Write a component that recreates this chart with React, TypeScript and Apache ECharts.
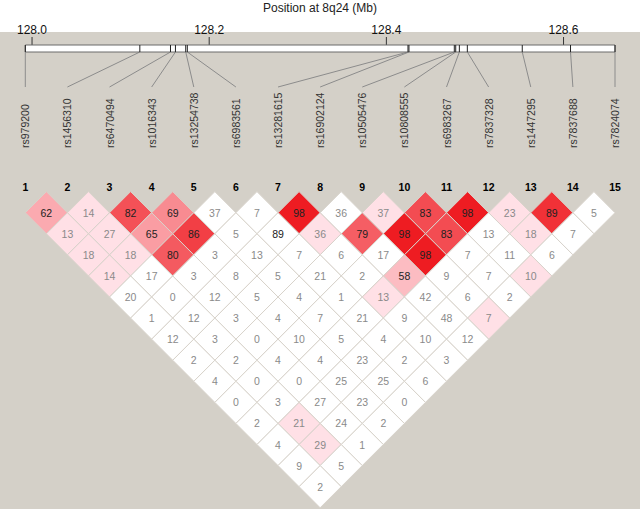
import React, { useEffect, useRef } from "react";
import * as echarts from "echarts";

const snpNames = [
  "rs979200", "rs1456310", "rs6470494", "rs1016343", "rs13254738",
  "rs6983561", "rs13281615", "rs16902124", "rs10505476", "rs10808555",
  "rs6983267", "rs7837328", "rs1447295", "rs7837688", "rs7824074",
];
const snpPositionsMb = [
  127.9924, 128.1217, 128.1563, 128.1619, 128.1735, 128.1753, 128.4244,
  128.4255, 128.4767, 128.4783, 128.4824, 128.4914, 128.5534, 128.6079, 128.6581,
];
const positionTicks = [128.0, 128.2, 128.4, 128.6];

// D' x100, one row per SNP distance (1 = adjacent pairs), left to right
const dPrimeRows = [
  [62, 14, 82, 69, 37, 7, 98, 36, 37, 83, 98, 23, 89, 5],
  [13, 27, 65, 86, 5, 89, 36, 79, 98, 83, 13, 18, 7],
  [18, 18, 80, 3, 13, 7, 6, 17, 98, 7, 11, 6],
  [14, 17, 3, 8, 5, 21, 2, 58, 9, 7, 10],
  [20, 0, 12, 5, 4, 1, 13, 42, 6, 2],
  [1, 12, 3, 4, 7, 21, 9, 48, 7],
  [12, 3, 0, 10, 5, 4, 10, 12],
  [2, 2, 4, 4, 23, 2, 3],
  [4, 0, 0, 25, 25, 6],
  [0, 3, 27, 23, 0],
  [2, 21, 24, 2],
  [4, 29, 1],
  [9, 5],
  [2],
];
// 1 = LOD >= 2 (coloured), 0 = LOD < 2 (white)
const strongLdRows = [
  [1, 1, 1, 1, 0, 0, 1, 0, 1, 1, 1, 1, 1, 0],
  [1, 1, 1, 1, 0, 0, 1, 1, 1, 1, 0, 1, 0],
  [1, 1, 1, 0, 0, 0, 0, 0, 1, 0, 0, 0],
  [1, 0, 0, 0, 0, 0, 0, 1, 0, 0, 1],
  [0, 0, 0, 0, 0, 0, 1, 0, 0, 0],
  [0, 0, 0, 0, 0, 0, 0, 0, 1],
  [0, 0, 0, 0, 0, 0, 0, 0],
  [0, 0, 0, 0, 0, 0, 0],
  [0, 0, 0, 0, 0, 0],
  [0, 0, 0, 0, 0],
  [0, 1, 0, 0],
  [0, 1, 0],
  [0, 0],
  [0],
];

const FONT = '"Liberation Sans", Arial, Helvetica, sans-serif';

function cellColor(dp: number, strong: number): string {
  if (!strong) return "#ffffff";
  const d = dp / 100;
  const g = Math.round(Math.min(224, Math.max(28, 448 * (1 - d))));
  const r = Math.round(255 - 17 * Math.min(1, Math.max(0, (d - 0.5) / 0.48)));
  const b = Math.min(255, g + 6);
  return `rgb(${r},${g},${b})`;
}

export default function App() {
  const ref = useRef<HTMLDivElement>(null);

  useEffect(() => {
    if (!ref.current) return;
    const chart = echarts.init(ref.current, null, { renderer: "svg" });

    const cells: number[][] = [];
    dPrimeRows.forEach((row, k) => {
      const dist = k + 1;
      row.forEach((v, m) => {
        const i = m + 1;
        const j = i + dist;
        cells.push([(i + j) / 2, dist, v, strongLdRows[k][m]]);
      });
    });

    const first = snpPositionsMb[0];
    const last = snpPositionsMb[snpPositionsMb.length - 1];
    const gridLeft = 25.3;
    const gridWidth = 589.7;
    // position panel: y units of 7px; bar spans 5..6, ticks 6..TOP
    const TOP = 50 / 7;

    const option: any = {
      animation: false,
      backgroundColor: {
        type: "linear",
        x: 0, y: 0, x2: 0, y2: 1,
        colorStops: [
          { offset: 0, color: "#ffffff" },
          { offset: 32 / 509, color: "#ffffff" },
          { offset: 32 / 509, color: "#d4d0c8" },
          { offset: 1, color: "#d4d0c8" },
        ],
      },
      title: {
        text: "Position at 8q24 (Mb)",
        left: "center",
        top: -3,
        textStyle: { fontFamily: FONT, fontSize: 12, fontWeight: "normal", color: "#222" },
      },
      grid: [
        { left: gridLeft, width: gridWidth, top: 212.7, height: 274, outerBoundsMode: "none" },
        { left: gridLeft, width: gridWidth, top: 37, height: 50, outerBoundsMode: "none" },
        { left: gridLeft, width: gridWidth, top: 150, height: 10, outerBoundsMode: "none" },
      ],
      xAxis: [
        {
          gridIndex: 0, type: "value", min: 1, max: 15, interval: 1, position: "top",
          axisLine: { show: false }, axisTick: { show: false }, splitLine: { show: false },
          axisLabel: {
            fontFamily: FONT, fontSize: 10.5, fontWeight: "bold", color: "#000",
            margin: 20, showMinLabel: true, showMaxLabel: true,
          },
        },
        {
          gridIndex: 1, type: "value", min: first, max: last, position: "top",
          axisLine: { show: false }, splitLine: { show: false },
          axisTick: { show: false },
          axisLabel: {
            customValues: positionTicks,
            formatter: (v: number) => v.toFixed(1),
            fontFamily: FONT, fontSize: 12, color: "#111", margin: 1,
          },
        },
        {
          gridIndex: 2, type: "value", min: 1, max: 15, interval: 1, position: "top",
          axisLine: { show: false }, axisTick: { show: false }, splitLine: { show: false },
          axisLabel: {
            interval: 0, rotate: 90, margin: 2,
            formatter: (v: number) => snpNames[Math.round(v) - 1] || "",
            fontFamily: FONT, fontSize: 10.5, color: "#333",
            showMinLabel: true, showMaxLabel: true,
          },
        },
      ],
      yAxis: [
        { gridIndex: 0, type: "value", min: 1, max: 14, inverse: true, show: false },
        { gridIndex: 1, type: "value", min: 0, max: TOP, show: false },
        { gridIndex: 2, type: "value", min: 0, max: 1, show: false },
      ],
      series: [
        {
          type: "custom",
          xAxisIndex: 1, yAxisIndex: 1,
          silent: true, clip: false, z: 2,
          data: positionTicks.map((t) => [t]),
          renderItem: (_p: any, api: any) => {
            const a = api.coord([api.value(0), TOP]);
            const b = api.coord([api.value(0), 6]);
            return {
              type: "line",
              shape: { x1: a[0], y1: a[1], x2: b[0], y2: b[1] },
              style: { stroke: "#333", lineWidth: 1 },
            };
          },
        },
        {
          type: "custom",
          xAxisIndex: 1, yAxisIndex: 1,
          silent: true, clip: false, z: 2,
          data: [[first, last]],
          renderItem: (_p: any, api: any) => {
            const a = api.coord([api.value(0), 6]);
            const b = api.coord([api.value(1), 5]);
            return {
              type: "rect",
              shape: { x: a[0], y: a[1], width: b[0] - a[0], height: b[1] - a[1] },
              style: { fill: "#ffffff", stroke: "#6a6a6a", lineWidth: 1 },
            };
          },
        },
        {
          type: "custom",
          xAxisIndex: 1, yAxisIndex: 1,
          silent: true, clip: false, z: 3,
          data: snpPositionsMb.map((p) => [p]),
          renderItem: (_p: any, api: any) => {
            const a = api.coord([api.value(0), 6]);
            const b = api.coord([api.value(0), 5]);
            return {
              type: "line",
              shape: { x1: a[0], y1: a[1], x2: b[0], y2: b[1] },
              style: { stroke: "#222", lineWidth: 1 },
            };
          },
        },
        {
          type: "custom",
          xAxisIndex: 0, yAxisIndex: 0,
          silent: true, clip: false, z: 2,
          data: cells,
          renderItem: (_p: any, api: any) => {
            const cx = api.value(0);
            const dist = api.value(1);
            const v = api.value(2);
            const strong = api.value(3);
            const c = api.coord([cx, dist]);
            const s = api.size([1, 1]);
            const hw = s[0] / 2;
            const hh = s[1];
            return {
              type: "group",
              children: [
                {
                  type: "polygon",
                  shape: {
                    points: [
                      [c[0], c[1] - hh],
                      [c[0] + hw, c[1]],
                      [c[0], c[1] + hh],
                      [c[0] - hw, c[1]],
                    ],
                  },
                  style: { fill: cellColor(v, strong), stroke: "#d8d3cb", lineWidth: 1 },
                },
                {
                  type: "text",
                  style: {
                    text: String(v),
                    x: c[0], y: c[1],
                    align: "center", verticalAlign: "middle",
                    textAlign: "center", textVerticalAlign: "middle",
                    fill: v >= 50 ? "#222222" : "#8a8a8a",
                    fontFamily: FONT, fontSize: 10.5,
                  },
                },
              ],
            };
          },
        },
      ],
    };

    chart.setOption(option);

    const bottomY = chart.convertToPixel({ yAxisIndex: 1 } as any, 0) as unknown as number;
    const links = snpPositionsMb.map((p, k) => {
      const top = chart.convertToPixel({ gridIndex: 1 } as any, [p, 5]) as unknown as number[];
      const bx = chart.convertToPixel({ xAxisIndex: 0 } as any, k + 1) as unknown as number;
      return {
        type: "line",
        silent: true,
        shape: { x1: top[0], y1: top[1], x2: bx, y2: bottomY },
        style: { stroke: "#8c8c8c", lineWidth: 1 },
      };
    });
    chart.setOption({ graphic: { elements: links } });

    return () => chart.dispose();
  }, []);

  return (
    <div
      ref={ref}
      style={{ position: "fixed", left: 0, top: 0, width: 640, height: 509 }}
    />
  );
}
